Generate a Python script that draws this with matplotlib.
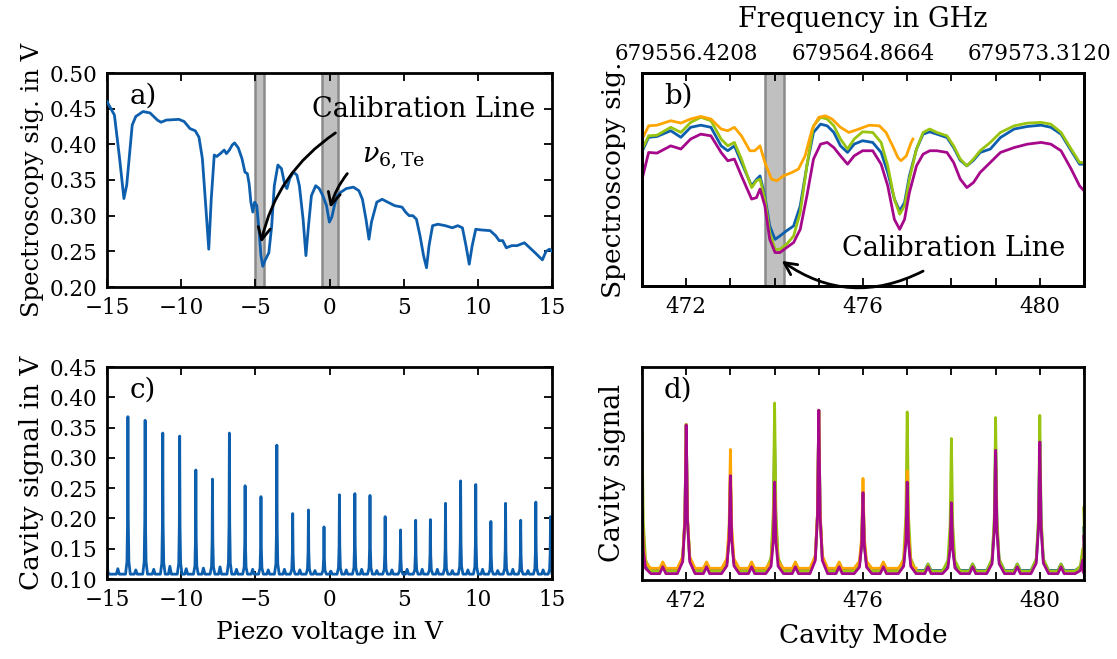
import numpy as np
import matplotlib
matplotlib.use("Agg")
import matplotlib.pyplot as plt
from matplotlib.ticker import MultipleLocator, FormatStrFormatter

plt.rcParams['font.family'] = ['DejaVu Serif']
plt.rcParams['mathtext.fontset'] = 'dejavuserif'

# ---------------- data ----------------
# a) spectroscopy signal vs piezo voltage
a_v = [-15, -14.5, -14.15, -13.86, -13.67, -13.3, -13.06, -12.57, -12.1, -11.6, -11.36, -11.0,
       -10.15, -9.8, -9.4, -9.05, -8.8, -8.57, -8.33, -8.14, -7.97, -7.77, -7.6, -7.36, -7.1,
       -6.95, -6.75, -6.56, -6.4, -6.15, -5.9, -5.7, -5.54, -5.42, -5.3, -5.17, -5.05, -4.9,
       -4.76, -4.62, -4.5, -4.33, -4.09, -3.9, -3.72, -3.48, -3.24, -3.0, -2.87, -2.68, -2.44,
       -2.2, -2.03, -1.78, -1.59, -1.42, -1.22, -0.93, -0.69, -0.45, -0.2, -0.01, 0.16, 0.33,
       0.52, 0.77, 1.13, 1.61, 1.98, 2.22, 2.46, 2.66, 2.83, 3.19, 3.55, 3.92, 4.4, 4.89, 5.13,
       5.37, 5.62, 5.86, 6.1, 6.34, 6.54, 6.71, 6.95, 7.31, 7.8, 8.28, 8.65, 8.96, 9.2, 9.42,
       9.62, 9.86, 10.22, 10.83, 11.2, 11.44, 11.68, 11.92, 12.29, 12.65, 13.14, 13.5, 13.86,
       14.35, 14.6, 14.83, 15]
a_sig = [0.46, 0.441, 0.38, 0.324, 0.343, 0.427, 0.439, 0.446, 0.444, 0.434, 0.431, 0.434,
         0.435, 0.432, 0.422, 0.419, 0.41, 0.38, 0.31, 0.253, 0.324, 0.385, 0.383, 0.387, 0.392,
         0.387, 0.392, 0.399, 0.402, 0.395, 0.38, 0.361, 0.359, 0.345, 0.319, 0.305, 0.319, 0.314,
         0.281, 0.244, 0.229, 0.238, 0.248, 0.285, 0.342, 0.371, 0.366, 0.342, 0.338, 0.352, 0.361,
         0.357, 0.342, 0.295, 0.244, 0.285, 0.328, 0.342, 0.338, 0.328, 0.314, 0.291, 0.298, 0.314,
         0.328, 0.333, 0.338, 0.34, 0.335, 0.323, 0.295, 0.267, 0.291, 0.319, 0.323, 0.319, 0.314,
         0.312, 0.305, 0.3, 0.3, 0.295, 0.272, 0.244, 0.227, 0.258, 0.286, 0.288, 0.286, 0.283,
         0.286, 0.283, 0.258, 0.232, 0.258, 0.281, 0.28, 0.279, 0.272, 0.265, 0.265, 0.255, 0.258,
         0.258, 0.262, 0.255, 0.248, 0.238, 0.25, 0.253, 0.25]
a_bands = [(-5.0, -4.4), (-0.5, 0.55)]

# b) spectroscopy signal vs cavity mode (arbitrary units)
b_orange_x = [471.04, 471.15, 471.34, 471.65, 471.88, 472.1, 472.33, 472.56, 472.79, 472.94,
              473.09, 473.25, 473.44, 473.55, 473.67, 473.78, 473.93, 474.05, 474.2, 474.39,
              474.54, 474.69, 474.85, 475.0, 475.15, 475.3, 475.49, 475.68, 475.91, 476.14,
              476.37, 476.52, 476.67, 476.79, 476.86, 476.98, 477.09, 477.13]
b_orange_y = [0.705, 0.752, 0.755, 0.776, 0.765, 0.784, 0.796, 0.784, 0.737, 0.729, 0.745, 0.705,
              0.635, 0.635, 0.658, 0.58, 0.502, 0.494, 0.517, 0.533, 0.549, 0.611, 0.737, 0.792,
              0.799, 0.784, 0.745, 0.721, 0.737, 0.755, 0.752, 0.721, 0.658, 0.603, 0.588, 0.611,
              0.674, 0.69]
b_x = [471.0, 471.15, 471.34, 471.65, 471.88, 472.1, 472.33, 472.56, 472.79, 472.94, 473.09,
       473.25, 473.48, 473.59, 473.67, 473.78, 473.89, 474.01, 474.12, 474.27, 474.43, 474.58,
       474.73, 474.88, 475.04, 475.19, 475.34, 475.49, 475.65, 475.8, 475.99, 476.22, 476.41,
       476.56, 476.71, 476.83, 476.94, 477.05, 477.21, 477.36, 477.51, 477.67, 477.9, 478.05,
       478.2, 478.35, 478.5, 478.65, 478.88, 479.11, 479.42, 479.72, 480.03, 480.25, 480.48,
       480.71, 480.9, 481.0]
b_green_y = [0.64, 0.705, 0.708, 0.745, 0.721, 0.768, 0.792, 0.776, 0.69, 0.658, 0.674, 0.596,
             0.462, 0.494, 0.502, 0.408, 0.251, 0.172, 0.172, 0.196, 0.235, 0.345, 0.564, 0.752,
             0.792, 0.784, 0.752, 0.69, 0.643, 0.69, 0.724, 0.721, 0.674, 0.564, 0.408, 0.337,
             0.376, 0.502, 0.643, 0.721, 0.737, 0.721, 0.705, 0.658, 0.596, 0.564, 0.596, 0.635,
             0.674, 0.721, 0.752, 0.765, 0.768, 0.76, 0.721, 0.643, 0.58, 0.58]
b_blue_y = [0.63, 0.698, 0.702, 0.729, 0.698, 0.745, 0.755, 0.745, 0.658, 0.635, 0.658, 0.58,
            0.47, 0.5, 0.517, 0.423, 0.282, 0.219, 0.235, 0.259, 0.282, 0.376, 0.564, 0.721,
            0.76, 0.752, 0.721, 0.658, 0.627, 0.666, 0.682, 0.674, 0.627, 0.533, 0.408, 0.353,
            0.392, 0.517, 0.643, 0.713, 0.724, 0.713, 0.697, 0.65, 0.59, 0.564, 0.59, 0.627,
            0.643, 0.697, 0.737, 0.749, 0.755, 0.745, 0.713, 0.635, 0.572, 0.572]
b_magenta_y = [0.5, 0.627, 0.624, 0.658, 0.643, 0.69, 0.713, 0.705, 0.627, 0.588, 0.596, 0.517,
               0.408, 0.415, 0.455, 0.376, 0.219, 0.157, 0.157, 0.18, 0.204, 0.266, 0.423, 0.596,
               0.666, 0.674, 0.65, 0.611, 0.572, 0.611, 0.635, 0.635, 0.572, 0.47, 0.313, 0.266,
               0.313, 0.439, 0.564, 0.619, 0.635, 0.635, 0.627, 0.58, 0.502, 0.462, 0.486, 0.533,
               0.58, 0.627, 0.65, 0.666, 0.674, 0.666, 0.635, 0.549, 0.47, 0.447]
b_band = (473.78, 474.22)
freq_ticks = [472, 476, 480]
freq_labels = ['679556.4208', '679564.8664', '679573.3120']

# c) cavity signal vs piezo voltage
c_peak_v = [-15.0, -13.59, -12.43, -11.24, -10.1, -9.01, -7.89, -6.75, -5.69, -4.62, -3.55,
            -2.48, -1.42, -0.37, 0.67, 1.71, 2.73, 3.75, 4.79, 5.81, 6.8, 7.82, 8.84, 9.86,
            10.88, 11.87, 12.89, 13.91, 14.9]
c_peak_h = [0.148, 0.368, 0.362, 0.341, 0.336, 0.28, 0.265, 0.341, 0.254, 0.236, 0.321,
            0.208, 0.214, 0.186, 0.239, 0.241, 0.238, 0.203, 0.181, 0.197, 0.198, 0.225,
            0.262, 0.256, 0.195, 0.225, 0.197, 0.227, 0.203]
c_side_v = [-14.27, -13.06, -11.85, -10.76, -9.66, -8.5, -7.38, -6.27, -5.18, -4.13, -3.04,
            -2.0, -0.98, 0.09, 1.13, 2.17, 3.19, 4.21, 5.23, 6.25, 7.27, 8.28, 9.33, 10.32,
            11.34, 12.36, 13.38, 14.4]
c_side_h = [0.117, 0.115, 0.116, 0.121, 0.117, 0.118, 0.12, 0.116, 0.116, 0.115, 0.116,
            0.115, 0.114, 0.113, 0.115, 0.116, 0.114, 0.115, 0.116, 0.116, 0.116, 0.114,
            0.115, 0.116, 0.114, 0.116, 0.114, 0.115]
c_base = 0.108

# d) cavity signal vs cavity mode (arbitrary units)
d_modes = [471, 472, 473, 474, 475, 476, 477, 478, 479, 480, 481]
d_side = [471.47, 472.46, 473.48, 474.47, 475.46, 476.46, 477.47, 478.48, 479.49, 480.48]
d_blue_h = [0.35, 0.731, 0.49, 0.656, 0.797, 0.414, 0.46, 0.36, 0.648, 0.65, 0.25]
d_green_h = [0.70, 0.73, 0.49, 0.831, 0.797, 0.41, 0.789, 0.664, 0.7625, 0.773, 0.344]
d_orange_modes = [471, 472, 473, 474, 475, 476, 477]
d_orange_h = [0.35, 0.73, 0.6125, 0.46, 0.797, 0.477, 0.5125]
d_magenta_h = [0.34, 0.727, 0.49, 0.46, 0.797, 0.41, 0.46, 0.3625, 0.609, 0.648, 0.21]
d_base = {'blue': 0.045, 'green': 0.042, 'orange': 0.055, 'magenta': 0.03}
d_side_h = {'blue': 0.075, 'green': 0.075, 'orange': 0.085, 'magenta': 0.062}

# ---------------- style ----------------
BLUE = '#0d5fae'
ORANGE = '#ffa500'
GREEN = '#99c40f'
MAGENTA = '#a5088a'
LW = 2.0
TICK_FS = 15.5
ANN_FS = 19.5
LET_FS = 20


def peak_line(centers, heights, side_c, side_h, base, w, ws, x0, x1):
    """Polyline through baseline points, peak tops and side-peak tops."""
    pts = [(x0, base), (x1, base)]
    for c, h in zip(centers, heights):
        d = h - base
        pts += [(c - w, base), (c - 0.4 * w, base + 0.08 * d), (c - 0.15 * w, base + 0.35 * d),
                (c, h),
                (c + 0.15 * w, base + 0.35 * d), (c + 0.4 * w, base + 0.08 * d), (c + w, base)]
    for c, h in zip(side_c, side_h):
        pts += [(c - ws, base), (c, h), (c + ws, base)]
    pts.sort(key=lambda p: p[0])
    return [p[0] for p in pts], [p[1] for p in pts]


def style_axes(ax):
    for sp in ax.spines.values():
        sp.set_linewidth(2.0)
    ax.tick_params(which='both', direction='in', length=6, width=1.3,
                   top=True, right=True, labelsize=TICK_FS, pad=7)


fig = plt.figure(figsize=(11.17, 6.59), dpi=100)
W, H = 1117.0, 659.0
ax_a = fig.add_axes([107 / W, 1 - 287 / H, 445 / W, 214 / H])
ax_b = fig.add_axes([642 / W, 1 - 286 / H, 442 / W, 213 / H])
ax_c = fig.add_axes([107 / W, 1 - 579 / H, 445 / W, 212 / H])
ax_d = fig.add_axes([642 / W, 1 - 580 / H, 442 / W, 213 / H])

# ---- panel a ----
for lo, hi in a_bands:
    ax_a.axvspan(lo, hi, facecolor='#c0c0c0', edgecolor='#8a8a8a', lw=1.8, zorder=1)
ax_a.plot(a_v, a_sig, color=BLUE, lw=LW, zorder=3)
ax_a.set_xlim(-15, 15)
ax_a.set_ylim(0.20, 0.50)
ax_a.set_xticks([-15, -10, -5, 0, 5, 10, 15])
ax_a.set_yticks([0.20, 0.25, 0.30, 0.35, 0.40, 0.45, 0.50])
ax_a.yaxis.set_major_formatter(FormatStrFormatter('%.2f'))
style_axes(ax_a)
ax_a.set_ylabel('Spectroscopy sig. in V', fontsize=17.5)
ax_a.yaxis.set_label_coords(-0.142, 0.5)
ax_a.text(0.05, 0.955, 'a)', transform=ax_a.transAxes, fontsize=LET_FS, va='top')
ax_a.text(-1.2, 0.438, 'Calibration Line', fontsize=ANN_FS, ha='left', va='baseline')
ax_a.text(2.2, 0.375, r'$\nu_{6,\mathrm{Te}}$', fontsize=ANN_FS, ha='left', va='baseline')
ax_a.annotate('', xy=(-4.62, 0.262), xytext=(0.4, 0.416),
              arrowprops=dict(arrowstyle='->', lw=2, color='black', mutation_scale=22,
                              connectionstyle='arc3,rad=0.2', shrinkA=0, shrinkB=0), zorder=4)
ax_a.annotate('', xy=(0.05, 0.311), xytext=(1.2, 0.359),
              arrowprops=dict(arrowstyle='->', lw=2, color='black', mutation_scale=22,
                              connectionstyle='arc3,rad=0.1', shrinkA=0, shrinkB=0), zorder=4)

# ---- panel b ----
ax_b.axvspan(*b_band, facecolor='#c0c0c0', edgecolor='#8a8a8a', lw=1.8, zorder=1)
ax_b.plot(b_x, b_blue_y, color=BLUE, lw=LW, zorder=3)
ax_b.plot(b_x, b_green_y, color=GREEN, lw=LW, zorder=3)
ax_b.plot(b_orange_x, b_orange_y, color=ORANGE, lw=LW, zorder=3)
ax_b.plot(b_x, b_magenta_y, color=MAGENTA, lw=LW, zorder=3)
ax_b.set_xlim(471, 481)
ax_b.set_ylim(0, 1)
ax_b.set_xticks([472, 476, 480])
ax_b.xaxis.set_minor_locator(MultipleLocator(1))
ax_b.set_yticks([])
style_axes(ax_b)
ax_b.tick_params(top=False, right=False, left=False)
ax_b.tick_params(which='minor', top=False)
ax_b.set_ylabel('Spectroscopy sig.', fontsize=19)
ax_b.yaxis.set_label_coords(-0.036, 0.5)
ax_b.text(0.05, 0.955, 'b)', transform=ax_b.transAxes, fontsize=LET_FS, va='top')
ax_b.text(475.53, 0.141, 'Calibration Line', fontsize=ANN_FS, ha='left', va='baseline')
ax_b.annotate('', xy=(474.16, 0.118), xytext=(477.36, 0.07),
              arrowprops=dict(arrowstyle='->', lw=2, color='black', mutation_scale=22,
                              connectionstyle='arc3,rad=-0.3', shrinkA=0, shrinkB=0), zorder=4)
ax_b2 = ax_b.twiny()
ax_b2.set_xlim(471, 481)
ax_b2.set_xticks(freq_ticks)
ax_b2.set_xticklabels(freq_labels)
ax_b2.xaxis.set_minor_locator(MultipleLocator(1))
ax_b2.tick_params(which='both', direction='in', length=6, width=1.3, labelsize=TICK_FS, pad=6)
ax_b2.set_xlabel('Frequency in GHz', fontsize=19.5)
ax_b2.xaxis.set_label_coords(0.5, 1.215)
for sp in ax_b2.spines.values():
    sp.set_linewidth(2.0)

# ---- panel c ----
cx, cy = peak_line(c_peak_v, c_peak_h, c_side_v, c_side_h, c_base, 0.16, 0.1, -15, 15)
ax_c.plot(cx, cy, color=BLUE, lw=LW)
ax_c.set_xlim(-15, 15)
ax_c.set_ylim(0.10, 0.45)
ax_c.set_xticks([-15, -10, -5, 0, 5, 10, 15])
ax_c.set_yticks([0.10, 0.15, 0.20, 0.25, 0.30, 0.35, 0.40, 0.45])
ax_c.yaxis.set_major_formatter(FormatStrFormatter('%.2f'))
style_axes(ax_c)
ax_c.set_ylabel('Cavity signal in V', fontsize=19)
ax_c.yaxis.set_label_coords(-0.142, 0.5)
ax_c.set_xlabel('Piezo voltage in V', fontsize=18)
ax_c.xaxis.set_label_coords(0.5, -0.2)
ax_c.text(0.05, 0.955, 'c)', transform=ax_c.transAxes, fontsize=LET_FS, va='top')

# ---- panel d ----
series = [('blue', BLUE, d_modes, d_blue_h, 481),
          ('green', GREEN, d_modes, d_green_h, 481),
          ('orange', ORANGE, d_orange_modes, d_orange_h, 477.15),
          ('magenta', MAGENTA, d_modes, d_magenta_h, 481)]
for name, col, modes, hts, xend in series:
    sides = [s for s in d_side if s < xend]
    dx, dy = peak_line(modes, hts, sides, [d_side_h[name]] * len(sides), d_base[name],
                       0.2, 0.07, 471, xend)
    ax_d.plot(dx, dy, color=col, lw=LW)
ax_d.set_xlim(471, 481)
ax_d.set_ylim(0, 1)
ax_d.set_xticks([472, 476, 480])
ax_d.xaxis.set_minor_locator(MultipleLocator(1))
ax_d.set_yticks([])
style_axes(ax_d)
ax_d.tick_params(left=False, right=False)
ax_d.set_ylabel('Cavity signal', fontsize=19.5)
ax_d.yaxis.set_label_coords(-0.036, 0.5)
ax_d.set_xlabel('Cavity Mode', fontsize=19)
ax_d.xaxis.set_label_coords(0.5, -0.2)
ax_d.text(0.05, 0.955, 'd)', transform=ax_d.transAxes, fontsize=LET_FS, va='top')

fig.savefig('out.png', dpi=100)
